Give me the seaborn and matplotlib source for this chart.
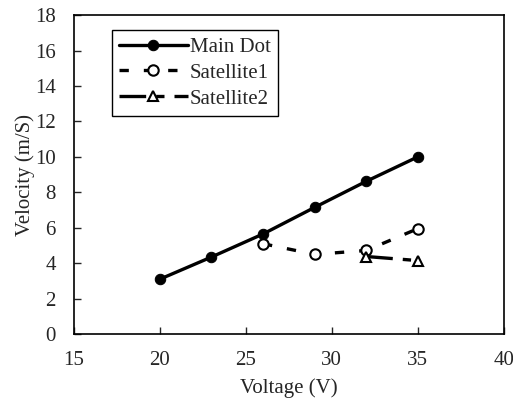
import numpy as np
import pandas as pd
import matplotlib
matplotlib.use('Agg')
import matplotlib.pyplot as plt
import seaborn as sns

# data
main_v = [20, 23, 26, 29, 32, 35]
main_y = [3.1, 4.35, 5.65, 7.15, 8.62, 10.0]
sat1_v = [26, 29, 32, 35]
sat1_y = [5.1, 4.5, 4.72, 5.95]
sat2_v = [32, 35]
sat2_y = [4.38, 4.15]

sns.set_style('ticks')
plt.rcParams['font.family'] = ['Liberation Serif', 'DejaVu Serif']

fig = plt.figure(figsize=(5.13, 4.07), dpi=100)
ax = fig.add_axes([0.144, 0.179, 0.838, 0.784])

sns.lineplot(x=main_v, y=main_y, ax=ax, color='black', lw=2.4,
             marker='o', markersize=7.5, markerfacecolor='black',
             markeredgecolor='black', label='Main Dot')
sns.lineplot(x=sat1_v, y=sat1_y, ax=ax, color='black', lw=2.4,
             marker='o', markersize=7.5, markerfacecolor='white',
             markeredgecolor='black', markeredgewidth=1.5,
             dashes=False, label='Satellite1')
sns.lineplot(x=sat2_v, y=sat2_y, ax=ax, color='black', lw=2.4,
             marker='^', markersize=7.5, markerfacecolor='white',
             markeredgecolor='black', markeredgewidth=1.5,
             dashes=False, label='Satellite2')
ax.lines[1].set_dashes([2.8, 4.5])
ax.lines[2].set_dashes([8, 3, 2.5, 3])

ax.set_xlim(15, 40)
ax.set_ylim(0, 18)
ax.set_xticks(range(15, 41, 5))
ax.set_yticks(range(0, 19, 2))
ax.tick_params(direction='in', length=5, width=1, labelsize=15, pad=12)
ax.tick_params(axis='y', pad=13)
for s in ax.spines.values():
    s.set_visible(True)
    s.set_linewidth(1.2)
    s.set_color('black')
ax.set_xlabel('Voltage (V)', fontsize=15, labelpad=6)
ax.set_ylabel('Velocity (m/S)', fontsize=15, labelpad=0)

leg = ax.legend(loc='upper left', bbox_to_anchor=(0.088, 0.953), fontsize=15,
                frameon=True, fancybox=False, edgecolor='black', framealpha=1,
                handlelength=3.3, handletextpad=0.1, borderpad=0.35,
                labelspacing=0.3, borderaxespad=0)
leg.get_frame().set_linewidth(1.0)

fig.savefig('out.png', dpi=100)
